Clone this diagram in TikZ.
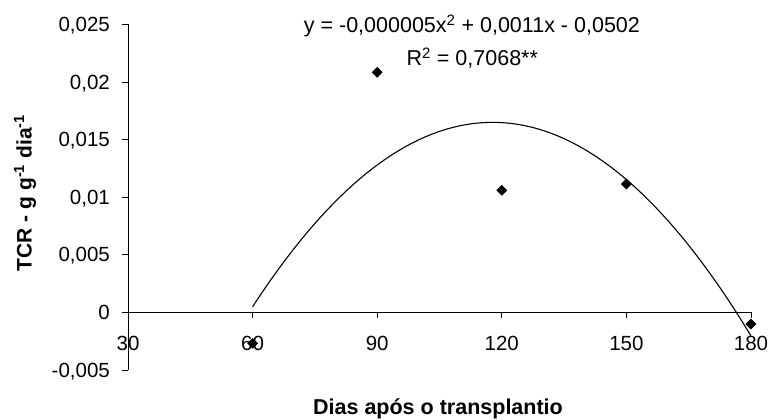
\documentclass[tikz,border=0pt]{standalone}
\usepackage{fontspec}
\setmainfont{Liberation Sans}
\usepackage{tikz}
\usetikzlibrary{shapes.geometric}

\tikzset{
	datapt/.style={diamond,fill=black,inner sep=0pt,minimum width=11pt,minimum height=11pt},
	ylab/.style={anchor=east,inner sep=0pt,text depth=0pt},
	xlab/.style={anchor=center,inner sep=0pt,text depth=0pt},
}

\begin{document}
\begin{tikzpicture}[x=4.153pt,y=11.52pt,font=\fontsize{20.5}{24}\selectfont]
		\useasboundingbox (-0.82,-9.26) rectangle (185.3,27.11);

		\draw[line width=0.8pt] (30,-5) -- (30,25);
		\draw[line width=0.8pt] (30,0) -- (180,0);

		\draw[line width=0.8pt] (30,25) -- ++(-6pt,0);
		\draw[line width=0.8pt] (30,20) -- ++(-6pt,0);
		\draw[line width=0.8pt] (30,15) -- ++(-6pt,0);
		\draw[line width=0.8pt] (30,10) -- ++(-6pt,0);
		\draw[line width=0.8pt] (30,5) -- ++(-6pt,0);
		\draw[line width=0.8pt] (30,0) -- ++(-6pt,0);
		\draw[line width=0.8pt] (30,-5) -- ++(-6pt,0);
		\draw[line width=0.8pt] (60,0) -- ++(0,-6pt);
		\draw[line width=0.8pt] (90,0) -- ++(0,-6pt);
		\draw[line width=0.8pt] (120,0) -- ++(0,-6pt);
		\draw[line width=0.8pt] (150,0) -- ++(0,-6pt);
		\draw[line width=0.8pt] (180,0) -- ++(0,-6pt);

		\node[ylab] (y25) at (25.67,25) {0,025};
		\node[ylab] (y20) at (25.67,20) {0,02};
		\node[ylab] (y15) at (25.67,15) {0,015};
		\node[ylab] (y10) at (25.67,10) {0,01};
		\node[ylab] (y05) at (25.67,5) {0,005};
		\node[ylab] (y00) at (25.67,0) {0};
		\node[ylab] (ym05) at (25.67,-5) {-0,005};

		\node[xlab] (x30) at (30,-2.71) {30};
		\node[xlab] (x60) at (60,-2.71) {60};
		\node[xlab] (x90) at (90,-2.71) {90};
		\node[xlab] (x120) at (120,-2.71) {120};
		\node[xlab] (x150) at (150,-2.71) {150};
		\node[xlab] (x180) at (180,-2.71) {180};

		\node[rotate=90,anchor=base,inner sep=0pt,font=\fontsize{21}{24}\selectfont\bfseries] (ytitle) at (6.81,10.36) {TCR - g g\textsuperscript{-1} dia\textsuperscript{-1}};
		\node[anchor=base,inner sep=0pt,font=\fontsize{21.5}{24}\selectfont\bfseries] (xtitle) at (104.64,-8.83) {Dias após o transplantio};

		\node[inner sep=0pt,text depth=0pt,font=\fontsize{21.5}{24}\selectfont] (eq) at (112.8,25.03) {y = -0,000005x\textsuperscript{2} + 0,0011x - 0,0502};
		\node[inner sep=0pt,text depth=0pt,font=\fontsize{21.5}{24}\selectfont] (rsq) at (112.9,22.2) {R\textsuperscript{2} = 0,7068**};

		\draw[domain=60:180,smooth,samples=60,variable=\x,line width=1.1pt] plot ({\x},{16.49-0.00479*(\x-117.8)*(\x-117.8)});

		\node[datapt] (p60) at (60,-2.69) {};
		\node[datapt] (p90) at (90,20.83) {};
		\node[datapt] (p120) at (120,10.59) {};
		\node[datapt] (p150) at (150,11.14) {};
		\node[datapt] (p180) at (180,-1.02) {};
	\end{tikzpicture}
\end{document}
